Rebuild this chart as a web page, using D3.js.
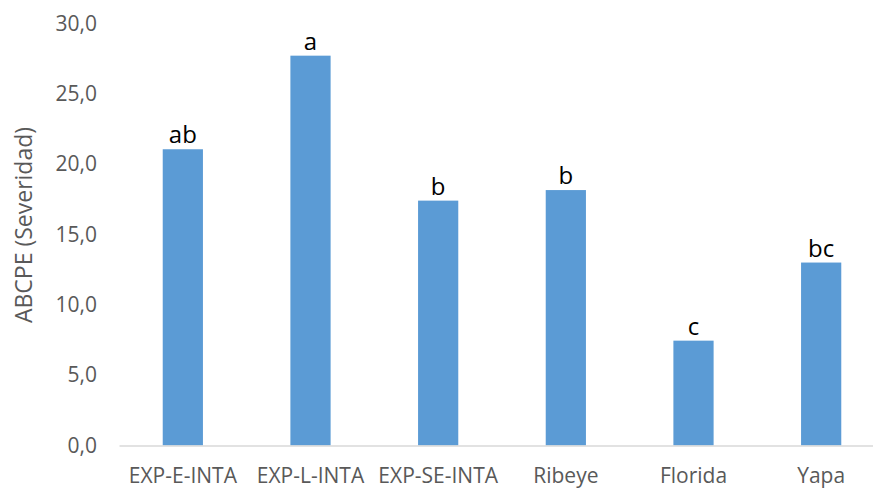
<!DOCTYPE html>
<html>
<head>
<meta charset="utf-8">
<script src="https://cdn.jsdelivr.net/npm/d3@7"></script>
<style>
  html, body { margin: 0; padding: 0; background: #fff; }
  svg { display: block; }
</style>
</head>
<body>
<svg id="chart" width="873" height="488"></svg>
<script>
// Cultivar categories, ABCPE severity values and significance letters
const categories = ["EXP-E-INTA", "EXP-L-INTA", "EXP-SE-INTA", "Ribeye", "Florida", "Yapa"];
const values = [21.05, 27.7, 17.4, 18.15, 7.45, 13.0];
const letters = ["ab", "a", "b", "b", "c", "bc"];
const yTicks = [0, 5, 10, 15, 20, 25, 30];
const yTitle = "ABCPE (Severidad)";

const svg = d3.select("#chart");
const font = "'Open Sans', 'Noto Sans', sans-serif";

const x = d3.scaleBand()
  .domain(categories)
  .range([119, 885])
  .paddingInner(0.685)
  .paddingOuter(0.3425);

const y = d3.scaleLinear()
  .domain([0, 30])
  .range([445.5, 23.3]);

const fmt = v => d3.format(".1f")(v).replace(".", ",");

// Y axis: labels only
const yAxis = svg.append("g")
  .attr("transform", "translate(104,0)")
  .call(d3.axisLeft(y).tickValues(yTicks).tickFormat(fmt).tickSize(0).tickPadding(7));
yAxis.select(".domain").remove();
yAxis.selectAll("text")
  .attr("font-family", font)
  .attr("font-size", 21)
  .attr("fill", "#595959");

// Bars
svg.append("g").selectAll("rect")
  .data(categories)
  .join("rect")
  .attr("x", d => x(d))
  .attr("width", x.bandwidth())
  .attr("y", (d, i) => y(values[i]))
  .attr("height", (d, i) => y(0) - y(values[i]))
  .attr("fill", "#5b9bd5");

// Category axis along the baseline
const xAxis = svg.append("g")
  .attr("transform", `translate(0,${y(0)})`)
  .call(d3.axisBottom(x).tickSize(0).tickPadding(23));
xAxis.select(".domain")
  .attr("stroke", "#d9d9d9")
  .attr("stroke-width", 1.5);
xAxis.selectAll("text")
  .attr("font-family", font)
  .attr("font-size", 21)
  .attr("fill", "#595959");

// Significance letters above bars
svg.append("g").selectAll("text")
  .data(categories)
  .join("text")
  .attr("x", d => x(d) + x.bandwidth() / 2)
  .attr("y", (d, i) => y(values[i]) - 6)
  .attr("text-anchor", "middle")
  .attr("font-family", font)
  .attr("font-size", 24)
  .attr("fill", "#000")
  .text((d, i) => letters[i]);

// Y axis title
svg.append("text")
  .attr("transform", "translate(32,225) rotate(-90)")
  .attr("text-anchor", "middle")
  .attr("font-family", font)
  .attr("font-size", 23)
  .attr("fill", "#595959")
  .text(yTitle);
</script>
</body>
</html>
